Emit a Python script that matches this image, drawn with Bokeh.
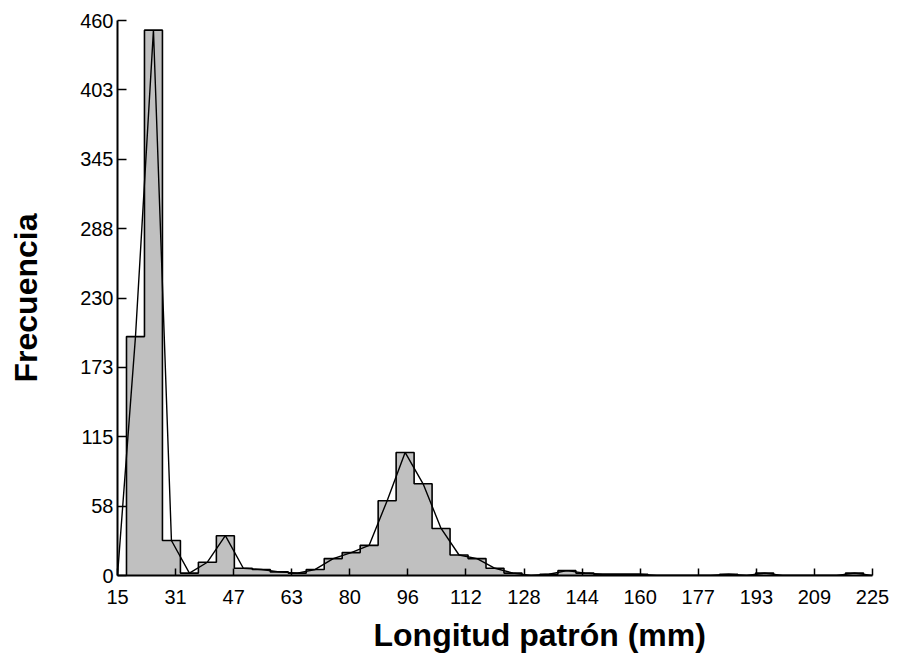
import numpy as np
from bokeh.plotting import figure
from bokeh.models import Range1d, FixedTicker, Title, CustomJSTickFormatter
from bokeh.embed import file_html
from bokeh.resources import INLINE

# ---- data ----
bin_width = 5
bin_centers = list(range(20, 225, 5))
counts = [198, 452, 29, 2, 11, 33, 6, 5, 3, 2,
          5, 14, 19, 25, 62, 102, 76, 39, 17, 14,
          6, 2, 0, 1, 4, 2, 1, 1, 1, 0,
          0, 0, 0, 1, 0, 2, 0, 0, 0, 0,
          2]
x_min, x_max = 15, 225
y_min, y_max = 0, 460
x_tick_labels = ["15", "31", "47", "63", "80", "96", "112", "128", "144",
                 "160", "177", "193", "209", "225"]
y_tick_labels = ["0", "58", "115", "173", "230", "288", "345", "403", "460"]

x_ticks = list(np.linspace(x_min, x_max, len(x_tick_labels)))
y_ticks = list(np.linspace(y_min, y_max, len(y_tick_labels)))

centers = np.array(bin_centers, dtype=float)
vals = np.array(counts, dtype=float)
lefts = centers - bin_width / 2
rights = centers + bin_width / 2

# step outline of histogram
sx, sy = [lefts[0]], [0.0]
for l, r, v in zip(lefts, rights, vals):
    sx += [l, r]
    sy += [v, v]
sx.append(rights[-1]); sy.append(0.0)

# frequency polygon
px = [centers[0] - bin_width] + list(centers) + [centers[-1] + bin_width]
py = [0.0] + list(vals) + [0.0]

p = figure(width=898, height=662,
           x_range=Range1d(x_min, x_max), y_range=Range1d(y_min, y_max),
           output_backend="svg", toolbar_location=None,
           min_border_left=117, min_border_right=26,
           min_border_top=20, min_border_bottom=87)
p.outline_line_color = None
p.xgrid.visible = False
p.ygrid.visible = False
p.background_fill_color = "white"
p.border_fill_color = "white"

p.patch(sx, sy, fill_color="#c0c0c0", line_color=None)
p.line(sx, sy, line_color="black", line_width=1.6)
p.line(px, py, line_color="black", line_width=1.4)

fmt_code = """
let b = 0;
for (let i = 0; i < t.length; i++) { if (Math.abs(t[i] - tick) < Math.abs(t[b] - tick)) b = i; }
return l[b];
"""
p.xaxis.ticker = FixedTicker(ticks=x_ticks)
p.yaxis.ticker = FixedTicker(ticks=y_ticks)
p.xaxis.formatter = CustomJSTickFormatter(args=dict(t=x_ticks, l=x_tick_labels), code=fmt_code)
p.yaxis.formatter = CustomJSTickFormatter(args=dict(t=y_ticks, l=y_tick_labels), code=fmt_code)

for ax in (p.xaxis[0], p.yaxis[0]):
    ax.axis_line_width = 2
    ax.axis_line_color = "black"
    ax.major_tick_line_color = "black"
    ax.major_tick_line_width = 1.5
    ax.major_tick_out = 0
    ax.minor_tick_line_color = None
    ax.major_label_text_font = "Liberation Sans"
    ax.major_label_text_font_size = "20px"
    ax.major_label_text_color = "black"

p.yaxis.major_tick_in = 9
p.xaxis.major_tick_in = 7
p.yaxis.major_label_standoff = 4
p.xaxis.major_label_standoff = 14

p.yaxis.axis_label = "Frecuencia"
p.yaxis.axis_label_text_font = "Liberation Sans"
p.yaxis.axis_label_text_font_style = "bold"
p.yaxis.axis_label_text_font_size = "32px"
p.yaxis.axis_label_text_color = "black"
p.yaxis.axis_label_standoff = 33

xt = Title(text="Longitud patrón (mm)", align="left", offset=256, standoff=17,
           text_font="Liberation Sans", text_font_style="bold",
           text_font_size="32px", text_color="black")
p.add_layout(xt, "below")

open("out.html", "w").write(file_html(p, INLINE))
